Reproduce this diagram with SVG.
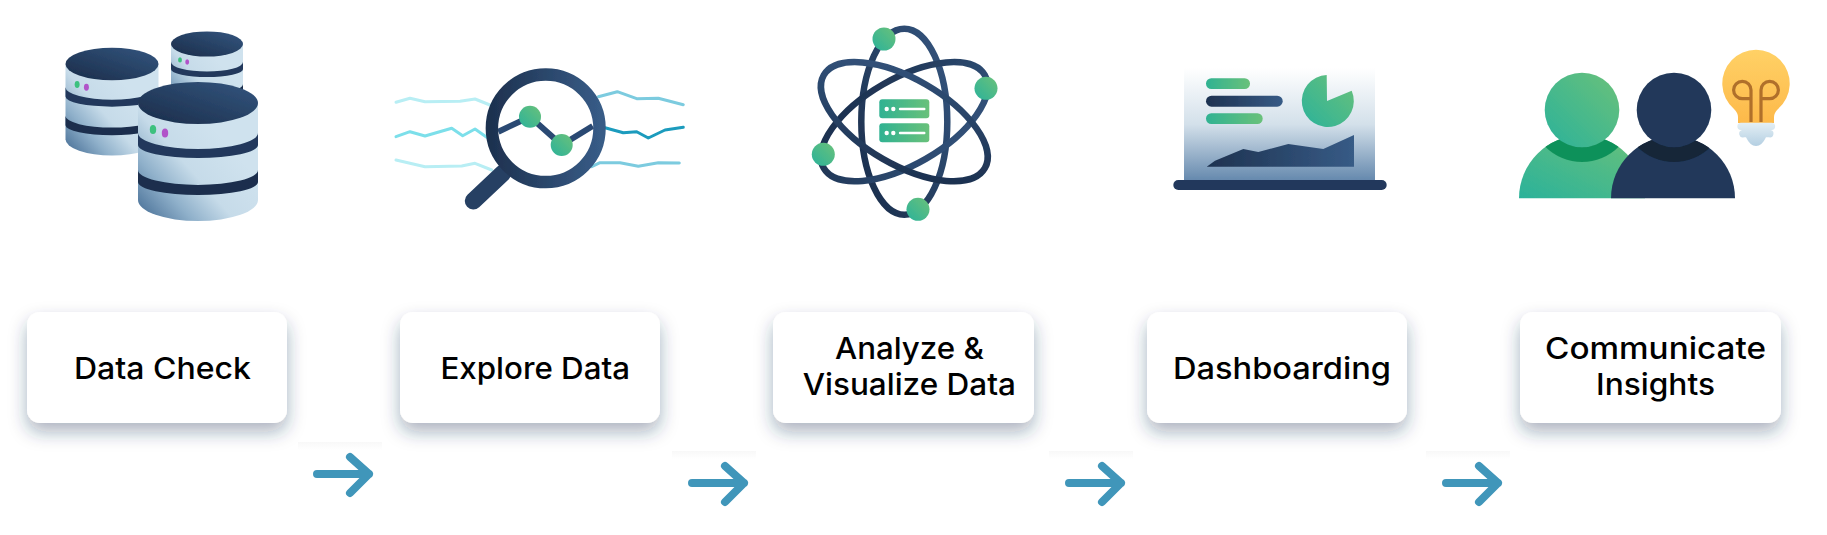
<svg xmlns="http://www.w3.org/2000/svg" xmlns:xlink="http://www.w3.org/1999/xlink" width="1827" height="535" viewBox="0 0 1827 535">
<style>
.card{fill:#fff;filter:url(#shadow)}
.lbl{font-family:"Inter","Liberation Sans",sans-serif;font-size:30px;font-weight:450;fill:#000}
.soft{filter:url(#soft)}
.lineL{fill:none;stroke:#b8eef4;stroke-width:3;stroke-linecap:round;stroke-linejoin:round}
.lineM{fill:none;stroke:#7cdfea;stroke-width:3;stroke-linecap:round;stroke-linejoin:round}
.lineR{fill:none;stroke:#7ccbdf;stroke-width:3;stroke-linecap:round;stroke-linejoin:round}
.arrow{fill:none;stroke:#4196ba;stroke-width:8;stroke-linecap:round;stroke-linejoin:round}
.orbit{fill:none;stroke:url(#navy);stroke-width:6.5}
.green{fill:url(#green)}
.srv{stroke:#fff;stroke-width:2.4;stroke-linecap:round;fill:none}
.dotw{fill:#fff}
.fil{fill:none;stroke:#b06f2c;stroke-width:3.2}
.patch{fill:url(#patch)}
</style>
<defs>
<filter id="shadow" x="-20%" y="-30%" width="140%" height="180%"><feDropShadow dx="0" dy="9" stdDeviation="9" flood-color="#1f3555" flood-opacity="0.36"/></filter>
<filter id="soft" x="-15%" y="-15%" width="130%" height="130%"><feGaussianBlur stdDeviation="0.75"/></filter>
<linearGradient id="navy" x1="0" y1="1" x2="1" y2="0"><stop offset="0" stop-color="#1a2c49"/><stop offset="1" stop-color="#34567f"/></linearGradient>
<linearGradient id="navyH" x1="0" y1="0" x2="1" y2="0"><stop offset="0" stop-color="#1e3250"/><stop offset="1" stop-color="#375b86"/></linearGradient>
<linearGradient id="green" x1="0" y1="1" x2="1" y2="0"><stop offset="0" stop-color="#2bb29a"/><stop offset="1" stop-color="#6ac17a"/></linearGradient>
<linearGradient id="greenH" x1="0" y1="0" x2="1" y2="0"><stop offset="0" stop-color="#30b292"/><stop offset="1" stop-color="#69c17a"/></linearGradient>
<linearGradient id="cyl" x1="0" y1="1" x2="0.75" y2="0.35"><stop offset="0" stop-color="#3f6790"/><stop offset="0.35" stop-color="#8fb0ca"/><stop offset="0.62" stop-color="#c6dbe9"/><stop offset="1" stop-color="#cfe2ee"/></linearGradient>
<linearGradient id="screen" x1="0" y1="0" x2="0" y2="1"><stop offset="0" stop-color="#fff"/><stop offset="0.5" stop-color="#d3e0ea"/><stop offset="1" stop-color="#6488ad"/></linearGradient>
<linearGradient id="bulb" x1="0" y1="0" x2="0" y2="1"><stop offset="0" stop-color="#ffd166"/><stop offset="1" stop-color="#fdb94a"/></linearGradient>
<linearGradient id="bulbBase" x1="0" y1="0" x2="0" y2="1"><stop offset="0" stop-color="#e4eff5"/><stop offset="1" stop-color="#b4cfe2"/></linearGradient>
<linearGradient id="patch" x1="0" y1="0" x2="0" y2="1"><stop offset="0" stop-color="#f8f8f8"/><stop offset="1" stop-color="#fff"/></linearGradient>
<g id="cylinder">
<path d="M-60,0V97A60,21 0 0 0 60,97V0Z" fill="url(#cyl)"/>
<path d="M-60,30A60,16 0 0 0 60,30V42A60,13 0 0 1 -60,42Z" fill="#21395b"/>
<path d="M-60,67A60,15 0 0 0 60,67V79A60,13 0 0 1 -60,79Z" fill="#1b2f4d"/>
<ellipse cx="0" cy="0" rx="60" ry="21" fill="url(#navy)"/>
<ellipse cx="-45" cy="26.5" rx="3.2" ry="4.5" fill="#3cc17f"/>
<ellipse cx="-33" cy="30" rx="3.2" ry="4.5" fill="#b152c9"/>
</g>
<clipPath id="clipB1"><circle cx="1582" cy="198.3" r="63"/></clipPath>
<clipPath id="clipB2"><circle cx="1673" cy="198.3" r="62"/></clipPath>
</defs>
<rect width="1827" height="535" fill="#fff"/>

<g id="node-data-check">
<g class="soft">
<use xlink:href="#cylinder" href="#cylinder" transform="translate(112,64) scale(.775)"/>
<use xlink:href="#cylinder" href="#cylinder" transform="translate(207,44) scale(.6)"/>
<use xlink:href="#cylinder" href="#cylinder" transform="translate(198,103)"/>
</g>
<rect class="card" x="27" y="312" width="260" height="111" rx="13"/>
<text class="lbl" x="74" y="379" textLength="177" lengthAdjust="spacingAndGlyphs">Data Check</text>
</g>

<g id="node-explore-data">
<g class="soft">
<polyline class="lineL" points="396,102.3 410,98.3 425,101.7 460,101.3 475,99 490,105"/>
<polyline class="lineM" points="396,136.7 410,131.7 425,136 451.7,128.3 462.7,135.7 475,129 486.7,137.3"/>
<polyline class="lineL" points="396,160 425,166.7 461.7,166 475,163.3 491.7,170"/>
<polyline class="lineR" points="598.3,96.7 617.3,91.7 636.7,98.7 658.3,98.3 683.3,104.7"/>
<polyline points="605,127.7 623.3,132.7 636.7,131.7 648.3,138 665,130 683.3,127.3" fill="none" stroke="#1a9bbd" stroke-width="3" stroke-linecap="round" stroke-linejoin="round"/>
<polyline class="lineR" points="591.7,166.7 600,162.7 620,162.7 638.3,166.3 658.3,162.7 679.3,163"/>
<path d="M473.3,201L503,173" stroke="#253f63" stroke-width="17" stroke-linecap="round" fill="none"/>
<polyline points="498.3,131.7 530,116.7 561.7,145 592.7,126" fill="none" stroke="#2c4a73" stroke-width="6"/>
<circle cx="545.7" cy="128.3" r="53.8" fill="none" stroke="url(#navyH)" stroke-width="12.5"/>
<circle class="green" cx="530" cy="116.7" r="11"/>
<circle class="green" cx="561.7" cy="145" r="11"/>
</g>
<rect class="card" x="400" y="312" width="260" height="111" rx="13"/>
<text class="lbl" x="440.5" y="379" textLength="189.5" lengthAdjust="spacingAndGlyphs">Explore Data</text>
</g>

<g id="node-analyze">
<g class="soft">
<ellipse class="orbit" cx="904.3" cy="121.7" rx="43" ry="93"/>
<ellipse class="orbit" cx="904.3" cy="121.7" rx="43" ry="93" transform="rotate(60 904.3 121.7)"/>
<ellipse class="orbit" cx="904.3" cy="121.7" rx="43" ry="93" transform="rotate(-60 904.3 121.7)"/>
<circle class="green" cx="884" cy="39" r="11.5"/>
<circle class="green" cx="986" cy="88.3" r="11.5"/>
<circle class="green" cx="823.3" cy="154.3" r="11.5"/>
<circle class="green" cx="918" cy="209.3" r="11.5"/>
<rect x="879.3" y="99.3" width="50" height="19" rx="3" fill="url(#greenH)"/>
<rect x="879.3" y="123.3" width="50" height="19" rx="3" fill="url(#greenH)"/>
<circle class="dotw" cx="886.7" cy="109" r="2.2"/><circle class="dotw" cx="893.3" cy="109" r="2.2"/>
<path class="srv" d="M900,109H924.3"/>
<circle class="dotw" cx="886.7" cy="133" r="2.2"/><circle class="dotw" cx="893.3" cy="133" r="2.2"/>
<path class="srv" d="M900,133H924.3"/>
</g>
<rect class="card" x="773" y="312" width="261" height="111" rx="13"/>
<text class="lbl" x="835" y="359" textLength="149" lengthAdjust="spacingAndGlyphs">Analyze &amp;</text>
<text class="lbl" x="802.7" y="395" textLength="213.3" lengthAdjust="spacingAndGlyphs">Visualize Data</text>
</g>

<g id="node-dashboarding">
<g class="soft">
<rect x="1184" y="68" width="191" height="113" fill="url(#screen)"/>
<rect x="1173.3" y="180" width="213.4" height="10" rx="5" fill="#21395b"/>
<rect x="1206" y="78.3" width="44" height="10.7" rx="5.3" fill="url(#greenH)"/>
<rect x="1206" y="95.7" width="76.7" height="11" rx="5.5" fill="url(#navyH)"/>
<rect x="1206" y="113.3" width="56.7" height="10.7" rx="5.3" fill="url(#greenH)"/>
<path d="M1327,101L1351.7,90.7A26,26 0 1 1 1326.7,75Z" fill="url(#green)"/>
<path d="M1206.7,166.7L1215,160.7L1243.3,149L1258.3,152L1288.3,144L1323.3,149L1354,135V166.7Z" fill="url(#navyH)"/>
</g>
<rect class="card" x="1147" y="312" width="260" height="111" rx="13"/>
<text class="lbl" x="1173" y="379" textLength="218" lengthAdjust="spacingAndGlyphs">Dashboarding</text>
</g>

<g id="node-communicate">
<g class="soft">
<path d="M1519,198.3A63,63 0 0 1 1645,198.3Z" fill="url(#green)"/>
<circle cx="1582" cy="110" r="52" fill="#11915a" clip-path="url(#clipB1)"/>
<circle cx="1582" cy="110" r="37.3" fill="url(#green)"/>
<path d="M1611,198.3A62,62 0 0 1 1735,198.3Z" fill="#20395a"/>
<circle cx="1674" cy="110" r="52" fill="#142539" clip-path="url(#clipB2)"/>
<circle cx="1674" cy="110" r="37.3" fill="#20395a"/>
<path d="M1738,123V117Q1738,113 1734,109A33.7,33.7 0 1 1 1778,109Q1774,113 1774,117V123Z" fill="url(#bulb)"/>
<path class="fil" d="M1751,122V90A8.7,8.7 0 1 0 1742.3,98.7H1751"/>
<path class="fil" d="M1761,122V90A8.7,8.7 0 1 1 1769.7,98.7H1761"/>
<path d="M1741,122.7H1771.5A3.6,3.6 0 0 1 1771.5,130H1770.5A3.6,3.6 0 0 1 1769,137.3H1766Q1762,146 1756,146Q1750,146 1746,137.3H1744A3.6,3.6 0 0 1 1742,130H1741A3.6,3.6 0 0 1 1741,122.7Z" fill="url(#bulbBase)"/>
</g>
<rect class="card" x="1520" y="312" width="261" height="111" rx="13"/>
<text class="lbl" x="1545" y="359" textLength="221" lengthAdjust="spacingAndGlyphs">Communicate</text>
<text class="lbl" x="1596" y="395" textLength="119" lengthAdjust="spacingAndGlyphs">Insights</text>
</g>

<g id="connectors">
<rect class="patch" x="298" y="442" width="84" height="8"/>
<rect class="patch" x="672" y="451" width="84" height="8"/>
<rect class="patch" x="1049" y="451" width="84" height="8"/>
<rect class="patch" x="1426" y="451" width="84" height="8"/>
<g class="soft">
<path class="arrow" d="M317,474H369M350,457L369,474L350,493"/>
<path class="arrow" d="M692,483H744M725,466L744,483L725,502"/>
<path class="arrow" d="M1069,483H1121M1102,466L1121,483L1102,502"/>
<path class="arrow" d="M1446,483H1498M1479,466L1498,483L1479,502"/>
</g>
</g>
</svg>
